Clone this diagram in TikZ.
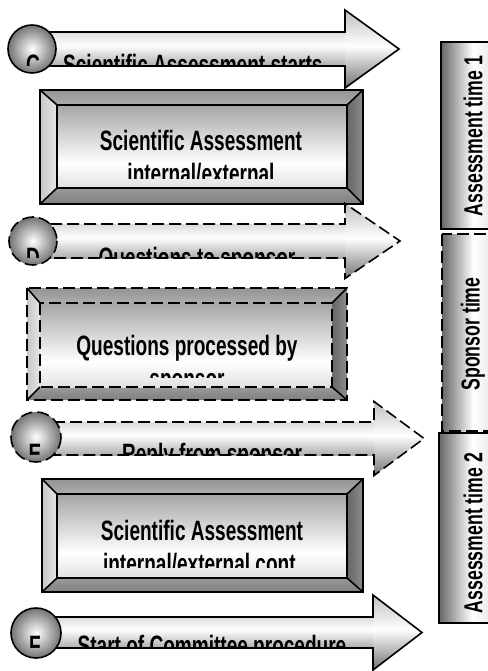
\documentclass[tikz,border=0pt]{standalone}
\usepackage{fontspec}
\newfontfamily\narrowb{Liberation Sans}[FakeStretch=0.68]
\newcommand\lbfont{\narrowb\bfseries\fontsize{28}{33}\selectfont}
\newcommand\colfont{\narrowb\bfseries\fontsize{26}{30}\selectfont}
\pgfdeclareverticalshading{shaftsh}{100bp}{color(0bp)=(black!32); color(25bp)=(black!32); color(55bp)=(white); color(75bp)=(black!14); color(100bp)=(black!14)}
\pgfdeclareverticalshading{headsh}{100bp}{color(0bp)=(black!55); color(25bp)=(black!55); color(52bp)=(white); color(75bp)=(black!25); color(100bp)=(black!25)}
\pgfdeclareverticalshading{facesh}{100bp}{color(0bp)=(black!12); color(25bp)=(black!12); color(40bp)=(white); color(75bp)=(black!35); color(100bp)=(black!35)}
\pgfdeclarehorizontalshading{colsh}{100bp}{color(0bp)=(black!60); color(25bp)=(black!60); color(50bp)=(white); color(75bp)=(black!15); color(100bp)=(black!15)}
\tikzset{
  ol/.style={line width=1.6pt, line join=miter},
  dsh/.style={dash pattern=on 12pt off 5pt},
  lbl/.style={font=\lbfont, inner sep=0pt, anchor=base},
  colt/.style={font=\colfont, inner sep=0pt, rotate=90, anchor=center},
  ballst/.style={ol, inner color=white, outer color=black!55},
}
% #1 cx, #2 mid y, #3 half shaft, #4 head base x, #5 half head, #6 tip x, #7 style
\newcommand\fatarrow[7]{%
  \shade[shading=shaftsh] (#1,#2-#3) rectangle (#4,#2+#3);
  \shade[shading=headsh] (#4,#2-#5) -- (#6,#2) -- (#4,#2+#5) -- cycle;
  \draw[ol,#7] (#1,#2-#3) -- (#4,#2-#3) -- (#4,#2-#5) -- (#6,#2) -- (#4,#2+#5) -- (#4,#2+#3) -- (#1,#2+#3);
}
% #1..#4 outer, #5..#8 inner, #9 style
\newcommand\bevbox[9]{%
  \shade[top color=black!42, bottom color=black!32] (#1,#2) -- (#3,#2) -- (#7,#6) -- (#5,#6) -- cycle;
  \shade[left color=black!22, right color=black!10] (#1,#2) -- (#5,#6) -- (#5,#8) -- (#1,#4) -- cycle;
  \shade[left color=black!60, right color=black!45] (#3,#2) -- (#7,#6) -- (#7,#8) -- (#3,#4) -- cycle;
  \shade[top color=black!40, bottom color=black!50] (#1,#4) -- (#5,#8) -- (#7,#8) -- (#3,#4) -- cycle;
  \shade[shading=facesh] (#5,#6) rectangle (#7,#8);
  \draw[ol,#9] (#1,#2) rectangle (#3,#4);
  \draw[ol,#9] (#5,#6) rectangle (#7,#8);
  \draw[ol] (#1,#2) -- (#5,#6) (#3,#2) -- (#7,#6) (#1,#4) -- (#5,#8) (#3,#4) -- (#7,#8);
}
\begin{document}
\begin{tikzpicture}[x=1pt,y=-1pt]
\useasboundingbox (0,0) rectangle (487,671);
\fill[white] (0,0) rectangle (487,671);

% right column
\shade[shading=colsh] (441,42) rectangle (505,229);
\draw[ol] (441,42) rectangle (505,229);
\shade[shading=colsh] (442,234) rectangle (505,431);
\draw[ol,dsh] (442,234) rectangle (505,431);
\shade[shading=colsh] (439,433) rectangle (505,623);
\draw[ol] (439,433) rectangle (505,623);
\node[colt] (col1) at (473,136) {Assessment time 1};
\node[colt] (col2) at (473,334) {Sponsor time};
\node[colt] (col3) at (473,533) {Assessment time 2};

% arrow C
\fatarrow{32}{49}{17}{345}{39}{399}{}
\draw[ballst] (32,49) circle (24);
\begin{scope}
  \clip (0,0) rectangle (420,65.5);
  \node[lbl] (cl) at (33,75) {C};
  \node[lbl, anchor=base west] (ct) at (63,75) {Scientific Assessment starts};
\end{scope}

% box 1
\bevbox{40}{90}{363}{204}{57}{105}{347}{188}{}
\begin{scope}
  \clip (0,90) rectangle (420,178);
  \node[lbl] (b1a) at (201,150) {Scientific Assessment};
  \node[lbl] (b1b) at (201,183) {internal/external};
\end{scope}

% arrow D
\fatarrow{33}{241}{17}{345}{37.5}{400}{dsh}
\draw[ballst,dsh] (33,241) circle (24);
\begin{scope}
  \clip (0,200) rectangle (420,257.5);
  \node[lbl] (dl) at (33,267) {D};
  \node[lbl] (dt) at (197,267) {Questions to sponsor};
\end{scope}

% box 2
\bevbox{27}{288}{347}{400}{40}{303}{332}{387}{dsh}
\begin{scope}
  \clip (0,288) rectangle (420,377);
  \node[lbl] (b2a) at (187,355) {Questions processed by};
  \node[lbl] (b2b) at (187,388) {sponsor};
\end{scope}

% arrow E
\fatarrow{36}{438.5}{16.5}{374}{37}{424}{dsh}
\draw[ballst,dsh] (36,437) circle (25);
\begin{scope}
  \clip (0,400) rectangle (420,454.5);
  \node[lbl] (el) at (35,463) {E};
  \node[lbl] (et) at (212,463) {Reply from sponsor};
\end{scope}

% box 3
\bevbox{42}{479}{363}{592}{57}{494}{347}{578}{}
\begin{scope}
  \clip (0,479) rectangle (420,567);
  \node[lbl] (b3a) at (202,540) {Scientific Assessment};
  \node[lbl] (b3b) at (202,573) {internal/external cont.};
\end{scope}

% arrow F
\fatarrow{36}{632.5}{15.5}{373}{37.5}{422}{}
\draw[ballst] (36,633) circle (25);
\begin{scope}
  \clip (0,590) rectangle (420,647.5);
  \node[lbl] (fl) at (35,655) {F};
  \node[lbl] (ft) at (212,655) {Start of Committee procedure};
\end{scope}
\end{tikzpicture}
\end{document}
